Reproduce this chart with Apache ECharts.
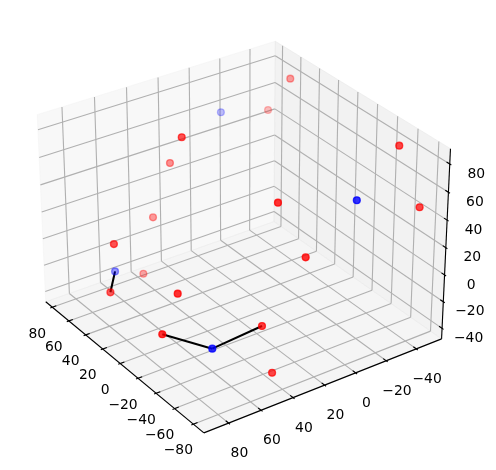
<!doctype html><html><head><meta charset="utf-8"><script src="https://cdn.jsdelivr.net/npm/echarts@6/dist/echarts.min.js"></script></head><body style="margin:0;background:#fff"><div id="c" style="width:496px;height:470px"></div><script>
var xTicks=[-80,-60,-40,-20,0,20,40,60,80];
var yTicks=[-40,-20,0,20,40,60,80];
var zTicks=[-40,-20,0,20,40,60,80];
var redX=[41.5,60.2,16,53.2,51.8,13.1,47.5,9,-40.3,-44.9,-71.4,-79.4,-75,-52.3,-67.4,-89.5];
var redY=[-38.5,-35.4,45.8,32.6,44.7,89.9,53.9,95,81.1,93.3,47.8,46.2,23.2,26.7,-39.9,-39.4];
var redZ=[89.1,59.1,88.7,48.3,13.5,31.1,-23.1,0.2,18.8,-2.7,-2.6,-33.2,38.1,67,88.5,55.5];
var blueX=[34.9,18.4,-65.4,-78.5];
var blueY=[10.4,86.9,74.8,-6.1];
var blueZ=[85.1,7.3,-10.3,68.3];
var bondRed=[7,9,10];
var bondBlue=[1,2,2];
var xLim=[-91,88],yLim=[-57,95],zLim=[-48,90.7];
var DEG=Math.PI/180,el=30*DEG,az=145*DEG,H=[.5714,.5714,.4286],D=10,S=2540,CX=241.3,CY=227.8;
var u=[-Math.sin(az),Math.cos(az),0];
var v=[-Math.sin(el)*Math.cos(az),-Math.sin(el)*Math.sin(az),Math.cos(el)];
var w=[Math.cos(el)*Math.cos(az),Math.cos(el)*Math.sin(az),Math.sin(el)];
function dot(a,b){return a[0]*b[0]+a[1]*b[1]+a[2]*b[2];}
function rel(x,y,z){return [(x-(xLim[0]+xLim[1])/2)/((xLim[1]-xLim[0])/2)*H[0],(y-(yLim[0]+yLim[1])/2)/((yLim[1]-yLim[0])/2)*H[1],(z-(zLim[0]+zLim[1])/2)/((zLim[1]-zLim[0])/2)*H[2]];}
function depth(x,y,z){return dot(rel(x,y,z),w);}
function proj(x,y,z){var p=rel(x,y,z),d=D-dot(p,w);return [CX+S*dot(p,u)/d,CY-S*dot(p,v)/d];}
var x0=xLim[0],x1=xLim[1],y0=yLim[0],y1=yLim[1],z0=zLim[0],z1=zLim[1];
function poly(a,color){return {pts:a.map(function(q){return proj(q[0],q[1],q[2]);}),color:color};}
var panes=[
 poly([[x1,y0,z0],[x1,y1,z0],[x1,y1,z1],[x1,y0,z1]],'rgba(242,242,242,0.5)'),
 poly([[x0,y0,z0],[x1,y0,z0],[x1,y0,z1],[x0,y0,z1]],'rgba(230,230,230,0.5)'),
 poly([[x0,y0,z0],[x1,y0,z0],[x1,y1,z0],[x0,y1,z0]],'rgba(236,236,236,0.5)')];
var grid=[],axes=[],ticks=[],labels=[];
function seg(list,a,b){var p=proj(a[0],a[1],a[2]),q=proj(b[0],b[1],b[2]);list.push([p[0],p[1],q[0],q[1]]);}
var dx=(x1-x0)/12,dy=(y1-y0)/12;
var OFF={x:[-15,26.7],y:[10.8,30.5],z:[26.5,10]};
function txt(t){return String(t).replace('-','\u2212');}
xTicks.forEach(function(t){seg(grid,[t,y1,z0],[t,y0,z0]);seg(grid,[t,y0,z0],[t,y0,z1]);seg(ticks,[t,y1+.1*dy,z0],[t,y1-.2*dy,z0]);var p=proj(t,y1,z0);labels.push([p[0]+OFF.x[0],p[1]+OFF.x[1],txt(t)]);});
yTicks.forEach(function(t){seg(grid,[x0,t,z0],[x1,t,z0]);seg(grid,[x1,t,z0],[x1,t,z1]);seg(ticks,[x0-.1*dx,t,z0],[x0+.2*dx,t,z0]);var p=proj(x0,t,z0);labels.push([p[0]+OFF.y[0],p[1]+OFF.y[1],txt(t)]);});
zTicks.forEach(function(t){seg(grid,[x1,y1,t],[x1,y0,t]);seg(grid,[x1,y0,t],[x0,y0,t]);seg(ticks,[x0-.1*dx,y0,t],[x0+.2*dx,y0,t]);var p=proj(x0,y0,t);labels.push([p[0]+OFF.z[0],p[1]+OFF.z[1],txt(t)]);});
seg(axes,[x1,y1,z0],[x0,y1,z0]);seg(axes,[x0,y1,z0],[x0,y0,z0]);seg(axes,[x0,y0,z0],[x0,y0,z1]);
var bonds=bondRed.map(function(r,i){var b=bondBlue[i],p=proj(redX[r],redY[r],redZ[r]),q=proj(blueX[b],blueY[b],blueZ[b]);return [p[0],p[1],q[0],q[1]];});
function scatter(X,Y,Z,rgb){var ds=X.map(function(_,i){return depth(X[i],Y[i],Z[i]);}),mn=Math.min.apply(null,ds),mx=Math.max.apply(null,ds);
 return X.map(function(_,i){var a=1-.7*(mx-ds[i])/(mx-mn),c='rgba('+rgb+','+a.toFixed(3)+')',p=proj(X[i],Y[i],Z[i]);return {value:p,d:ds[i],itemStyle:{color:c,borderColor:c,borderWidth:1.39}};}).sort(function(a,b){return a.d-b.d;});}
function segSeries(data,color,width,z){return {type:'custom',coordinateSystem:'cartesian2d',silent:true,z:z,data:data,clip:false,encode:{x:[0,2],y:[1,3]},renderItem:function(p,api){var a=api.coord([api.value(0),api.value(1)]),b=api.coord([api.value(2),api.value(3)]);return {type:'line',shape:{x1:a[0],y1:a[1],x2:b[0],y2:b[1]},style:{stroke:color,lineWidth:width,fill:null}};}};}
var opt={animation:false,backgroundColor:'#fff',
 grid:{left:0,right:0,top:0,bottom:0},
 xAxis:{type:'value',min:0,max:496,show:false},
 yAxis:{type:'value',min:0,max:470,inverse:true,show:false},
 series:[
 {type:'custom',coordinateSystem:'cartesian2d',silent:true,z:1,clip:false,data:panes.map(function(p,i){return [p.pts[0][0],p.pts[0][1],i];}),encode:{x:0,y:1},renderItem:function(pr,api){var P=panes[api.value(2)];return {type:'polygon',shape:{points:P.pts.map(function(q){return api.coord(q);})},style:{fill:P.color,stroke:P.color,lineWidth:1}};}},
 segSeries(grid,'#b0b0b0',1.11,2),
 segSeries(axes,'#000',1.11,3),
 segSeries(ticks,'#000',1.11,3),
 segSeries(bonds,'#000',2.08,4),
 {type:'scatter',z:5,silent:true,symbolSize:6.8,data:scatter(redX,redY,redZ,'255,0,0')},
 {type:'scatter',z:5,silent:true,symbolSize:6.8,data:scatter(blueX,blueY,blueZ,'0,0,255')},
 {type:'custom',coordinateSystem:'cartesian2d',silent:true,z:6,clip:false,data:labels,encode:{x:0,y:1},renderItem:function(pr,api){var L=labels[pr.dataIndex],a=api.coord([L[0],L[1]]);return {type:'text',style:{text:L[2],x:a[0],y:a[1],align:'center',verticalAlign:'middle',fill:'#000',font:'13.9px "DejaVu Sans"'}};}}
 ]};
echarts.init(document.getElementById('c'),null,{renderer:'canvas'}).setOption(opt);
</script></body></html>
